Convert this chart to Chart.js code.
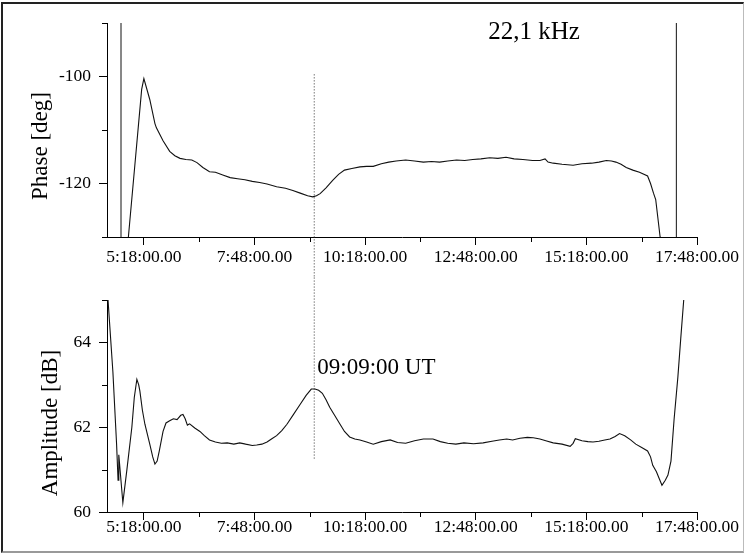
<!DOCTYPE html>
<html><head><meta charset="utf-8">
<script src="https://cdn.jsdelivr.net/npm/chart.js@4"></script>
<style>
html,body{margin:0;padding:0;background:#fff;}
#wrap{position:relative;width:746px;height:554px;overflow:hidden;background:#fff;}
canvas{position:absolute;left:0;}
#frame{position:absolute;left:1px;top:2px;width:743px;height:551px;box-sizing:border-box;border-left:2px solid #222;border-top:2px solid #222;border-right:1px solid #bbb;border-bottom:2px solid #999;pointer-events:none;}
</style></head>
<body>
<div id="wrap">
<canvas id="top" width="746" height="277" style="top:0"></canvas>
<canvas id="bot" width="746" height="277" style="top:277px"></canvas>
<div id="frame"></div>
</div>
<script>
// ---- data (time in minutes of the day, UT) ----
const xTickValues = [318,393,468,543,618,693,768,843,918,993,1068];
const xLabelValues = [318,468,618,768,918,1068];

const phaseTicks = [-130,-120,-110,-100,-90];
const phaseLabels = [-120,-100];
const ampTicks = [60,61,62,63,64,65];
const ampLabels = [60,62,64];

const phaseTime = [297,315,318,326,333,335,344,353,360,367,375,383,390,398,407,415,425,435,445,455,465,475,485,498,510,520,530,540,547,552,557,565,574,582,590,600,611,620,629,640,650,660,673,685,697,708,719,730,742,753,764,775,787,798,809,820,832,845,855,862,866,873,885,900,912,925,935,945,952,958,965,972,981,990,1001,1005,1009,1012,1015,1018,1020];
const phaseValue = [-130,-102.4,-100.4,-104.3,-108.8,-109.6,-112,-114,-114.8,-115.3,-115.5,-115.6,-116.1,-117,-117.8,-117.9,-118.4,-118.9,-119.1,-119.3,-119.6,-119.8,-120.1,-120.6,-120.9,-121.3,-121.8,-122.3,-122.5,-122.3,-121.9,-120.8,-119.4,-118.3,-117.5,-117.2,-116.9,-116.8,-116.8,-116.3,-116.0,-115.8,-115.6,-115.8,-116.0,-115.9,-116.0,-115.8,-115.6,-115.7,-115.5,-115.4,-115.2,-115.3,-115.1,-115.4,-115.5,-115.7,-115.7,-115.4,-116.0,-116.2,-116.4,-116.6,-116.3,-116.2,-116.0,-115.7,-115.8,-116.0,-116.4,-117.0,-117.5,-117.9,-118.6,-120.0,-121.8,-123.0,-126.5,-130.0,-131];

const ampTime = [269,276,281,283,284,289.5,295,301.7,305,308.5,311,312.6,316,319.4,326,330,333,336,339,344,348,353,358,363,368,371,374,377,380,387,394,400,407,415,423,431,440,448,456,465,471,478,485,491,498,505,512,520,530,538,545,550,555,560,565,570,577,584,590,597,604,611,620,629,640,652,662,673,685,697,710,720,730,741,752,765,778,790,800,810,818,828,838,846,855,863,873,885,896,900,903,912,920,927,935,943,950,957,963,970,978,985,993,1001,1005,1008,1013,1017,1020.5,1025,1028.6,1032.7,1037,1042,1046,1050,1052];
const ampValue = [65.1,63.3,61.6,60.75,61.35,60.22,61.0,62.0,62.7,63.13,63.0,62.85,62.4,62.07,61.6,61.3,61.13,61.2,61.45,61.9,62.1,62.15,62.2,62.18,62.28,62.3,62.2,62.05,62.08,61.98,61.9,61.8,61.7,61.65,61.62,61.63,61.6,61.63,61.6,61.57,61.58,61.6,61.65,61.72,61.8,61.92,62.07,62.28,62.54,62.75,62.9,62.9,62.87,62.8,62.65,62.47,62.27,62.07,61.9,61.77,61.72,61.7,61.65,61.6,61.66,61.7,61.64,61.62,61.68,61.72,61.72,61.66,61.62,61.6,61.63,61.61,61.63,61.67,61.7,61.72,61.7,61.74,61.76,61.75,61.72,61.68,61.63,61.6,61.55,61.62,61.73,61.68,61.66,61.65,61.67,61.7,61.72,61.78,61.85,61.8,61.7,61.6,61.52,61.44,61.3,61.1,60.95,60.78,60.63,60.75,60.87,61.2,62.2,63.17,64.1,65.0,65.3];

const markerTimes = [287, 1040];   // solid vertical lines in phase panel
const eventTime = 549;             // 09:09 UT
const eventLabel = '09:09:00 UT';
const freqLabel = '22,1 kHz';
const phaseTitle = 'Phase [deg]';
const ampTitle = 'Amplitude [dB]';

// ---- helpers ----
const SERIF = "'Liberation Serif','Times New Roman',serif";
function fmtTime(v){
  const h = Math.floor(v/60), m = Math.round(v - h*60);
  return h + ':' + String(m).padStart(2,'0') + ':00.00';
}
function pts(t, v){ return t.map((x,i)=>({x:x, y:v[i]})); }

function makePanel(canvasId, o){
  const minorPlugin = {
    id:'minorTicks'+canvasId,
    afterDraw(chart){
      const ctx = chart.ctx, xs = chart.scales.x, ys = chart.scales.y;
      ctx.save();
      ctx.strokeStyle = '#000'; ctx.lineWidth = 1;
      ctx.beginPath();
      for (const v of xTickValues){
        if (xLabelValues.includes(v)) continue;
        const p = Math.round(xs.getPixelForValue(v)) + 0.5;
        ctx.moveTo(p, ys.bottom); ctx.lineTo(p, ys.bottom + 5);
      }
      for (const v of o.yTicks){
        if (o.yLabels.includes(v)) continue;
        const p = Math.round(ys.getPixelForValue(v)) + 0.5;
        ctx.moveTo(xs.left - 5, p); ctx.lineTo(xs.left, p);
      }
      ctx.stroke();
      ctx.fillStyle = '#000';
      ctx.font = '23px ' + SERIF;
      ctx.translate(o.titleX, o.titleY);
      ctx.rotate(-Math.PI/2);
      ctx.textAlign = 'center'; ctx.textBaseline = 'alphabetic';
      ctx.fillText(o.title, 0, 0);
      ctx.restore();
      if (o.text){
        ctx.save();
        ctx.fillStyle = '#000';
        ctx.font = o.text.size + 'px ' + SERIF;
        ctx.textAlign = 'left'; ctx.textBaseline = 'alphabetic';
        ctx.fillText(o.text.str, xs.getPixelForValue(o.text.x) + (o.text.dx||0), ys.getPixelForValue(o.text.y));
        ctx.restore();
      }
    }
  };

  const datasets = [{
    data: pts(o.t, o.v), borderColor:'#111', borderWidth:1.1, pointRadius:0, tension:0
  },{
    data: o.dotted, borderColor:'#333', borderWidth:1, borderDash:[1,2], pointRadius:0, clip:false
  }];
  (o.extra||[]).forEach(d=>datasets.push({data:d, borderColor:'#111', borderWidth:1, pointRadius:0}));

  return new Chart(document.getElementById(canvasId), {
    type:'line',
    data:{ datasets },
    plugins:[minorPlugin],
    options:{
      responsive:false, animation:false, events:[],
      layout:{ padding:{ left:0, top:23, right:49, bottom:0 } },
      plugins:{ legend:{display:false}, tooltip:{enabled:false} },
      scales:{
        x:{
          type:'linear', min:268, max:1068,
          afterBuildTicks: s => { s.ticks = xTickValues.map(v=>({value:v})); },
          afterFit: s => { s.height = o.xHeight; },
          grid:{ drawOnChartArea:false, drawTicks:true, tickLength:8,
                 tickColor: c => (c.tick && xLabelValues.includes(c.tick.value)) ? '#000' : 'rgba(0,0,0,0)' },
          border:{ display:true, color:'#000', width:1 },
          ticks:{ autoSkip:false, maxRotation:0, minRotation:0, padding:o.xPad, color:'#000',
                  font:{ family:SERIF, size:17.5 },
                  callback: v => xLabelValues.includes(v) ? fmtTime(v) : '' }
        },
        y:{
          type:'linear', min:o.yMin, max:o.yMax,
          afterBuildTicks: s => { s.ticks = o.yTicks.map(v=>({value:v})); },
          afterFit: s => { s.width = 107; },
          grid:{ drawOnChartArea:false, drawTicks:true, tickLength:8,
                 tickColor: c => (c.tick && o.yLabels.includes(c.tick.value)) ? '#000' : 'rgba(0,0,0,0)' },
          border:{ display:true, color:'#000', width:1 },
          ticks:{ autoSkip:false, padding:8, color:'#000', font:{ family:SERIF, size:17.5 },
                  callback: v => o.yLabels.includes(v) ? String(v) : '' }
        }
      }
    }
  });
}

makePanel('top', {
  t: phaseTime, v: phaseValue, yMin:-130, yMax:-90, yTicks: phaseTicks, yLabels: phaseLabels,
  xHeight:40, xPad:2, title: phaseTitle, titleX:47, titleY:146,
  dotted:[{x:eventTime,y:-99.6},{x:eventTime,y:-138}],
  extra: markerTimes.map(t=>[{x:t,y:-130},{x:t,y:-90}]),
  text:{ str: freqLabel, size:25, x:785, y:-92.9, dx:0 }
});
makePanel('bot', {
  t: ampTime, v: ampValue, yMin:60, yMax:65, yTicks: ampTicks, yLabels: ampLabels,
  xHeight:42, xPad:-3, title: ampTitle, titleX:57, titleY:146,
  dotted:[{x:eventTime,y:65.6},{x:eventTime,y:61.22}],
  text:{ str: eventLabel, size:23, x:eventTime, y:63.25, dx:3 }
});
</script>
</body></html>
